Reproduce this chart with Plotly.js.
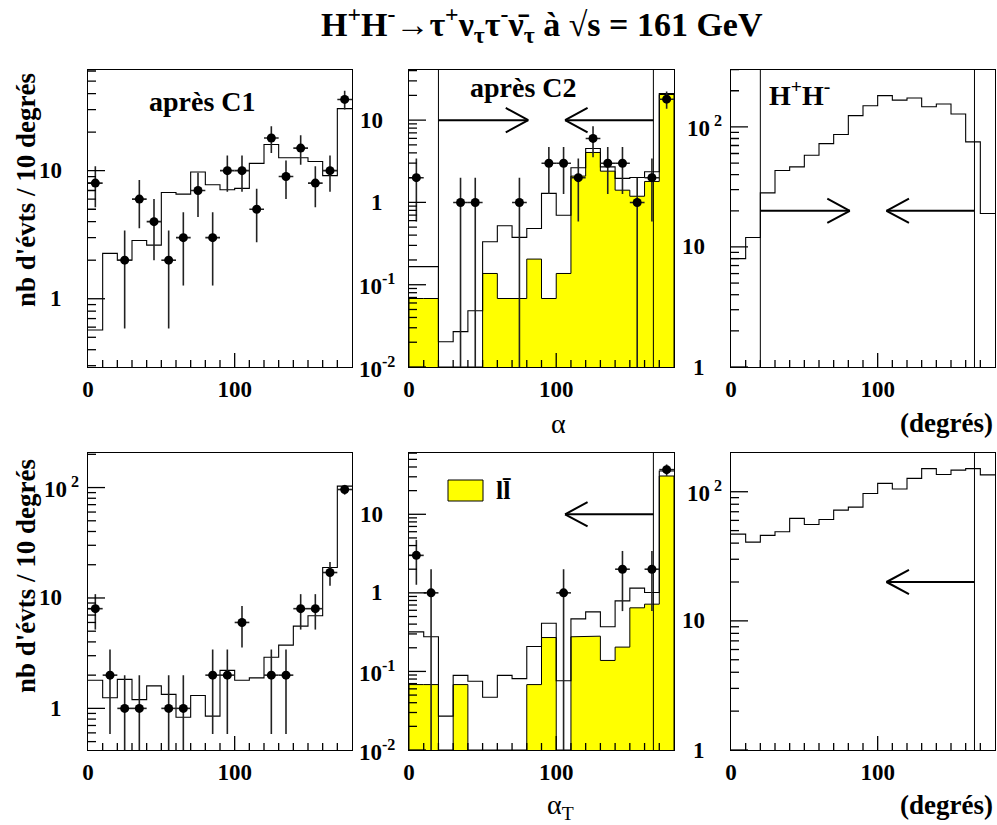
<!DOCTYPE html>
<html><head><meta charset="utf-8">
<script src="https://cdn.plot.ly/plotly-3.0.1.min.js"></script>
<style>body{margin:0;background:#fff}#chart{width:997px;height:825px}</style>
</head><body><div id="chart"></div>
<script>
// ---------- data ----------
const binEdges   = [0,10,20,30,40,50,60,70,80,90,100,110,120,130,140,150,160,170,180];
const binCenters = [5,15,25,35,45,55,65,75,85,95,105,115,125,135,145,155,165,175];

// top-left: alpha after C1
const p1_mc   = [0.57,2.26,2.0,2.85,2.62,6.76,6.56,9.77,7.77,7.1,7.27,11.4,16.0,12.6,12.6,11.8,9.14,30.5];
const p1_data = [8,null,2,6,4,2,3,7,3,10,10,5,18,9,15,8,10,36];

// top-middle: alpha after C2
const p2_ll   = [0.068,0.068,0,0,0,0.137,0.068,0.068,0.205,0.068,0.137,2.09,4.05,2.4,1.41,1.19,1.8,20.5];
const p2_mc   = [0.166,0.166,0.0203,0.0269,0.0483,0.333,0.521,0.376,0.483,1.29,0.70,2.64,4.53,2.71,1.96,2.01,2.36,21.1];
const p2_data = [2,null,null,1,1,null,null,1,null,3,3,2,6,3,3,1,2,18];

// top-right: H+H- signal, alpha
const p3_sig  = [8.0,12.0,28.2,43.3,46.4,58,72.6,86.3,124,150,182,167,174,147,155,128,75,19];

// bottom-left: alpha_T after C1
const p4_mc   = [1.8,1.25,1.83,1.2,1.6,1.34,0.83,1.31,0.85,2.21,1.8,1.89,2.9,3.74,5.56,6.9,18.9,103];
const p4_data = [8,2,1,1,null,1,1,null,2,2,6,null,2,2,8,8,17,96];

// bottom-middle: alpha_T after C2
const p5_ll   = [0.068,0.068,0,0.068,0,0,0,0,0.068,0.27,0,0.276,0.281,0.138,0.204,0.645,0.718,30.7];
const p5_mc   = [0.319,0.276,0.027,0.089,0.075,0.047,0.089,0.081,0.208,0.411,0.076,0.467,0.573,0.37,0.791,1.15,1.01,35.6];
const p5_data = [3,1,null,null,null,null,null,null,null,null,1,null,null,null,2,null,2,37];

// bottom-right: H+H- signal, alpha_T
const p6_sig  = [47,40.7,45.9,49,62.2,55.8,61,72.1,76,97,116,105,127,151,136,147,151,135];

// cut values (degrees)
const cutLow = 20, cutHigh = 166;

// tick labels
const xTickVals = [0,100], xTickText = ['0','100'];
const xMinorVals = [10,20,30,40,50,60,70,80,90,110,120,130,140,150,160,170];
const yTickC1 = [1,10],             yTextC1 = ['1','10'];
const yTickC2 = [0.01,0.1,1,10],    yTextC2 = ['10<sup>-2</sup>','10<sup>-1</sup>','1','10'];
const yTickHi = [1,10,100],         yTextHi = ['1','10','10<sup> 2</sup>'];

// ---------- helpers ----------
const W = 997, H = 825;
const px = v => v / W, py = v => 1 - v / H;
const FONT = 'Liberation Serif, Times New Roman, Times, serif';
const XMAX = binEdges[binEdges.length-1];

function stepTrace(xa, ya, vals) {
  return {type:'scatter', mode:'lines', x: binEdges.slice(),
    y: vals.concat([vals[vals.length-1]]), xaxis:xa, yaxis:ya,
    line:{shape:'hv', color:'black', width:1.1}, hoverinfo:'skip', showlegend:false};
}
function fillTrace(xa, ya, vals, floor) {
  const x = [binEdges[0]], y = [floor];
  vals.forEach((v, i) => { const vv = Math.max(v, floor); x.push(binEdges[i], binEdges[i+1]); y.push(vv, vv); });
  x.push(XMAX); y.push(floor);
  return {type:'scatter', mode:'lines', x, y, xaxis:xa, yaxis:ya, fill:'toself',
    fillcolor:'#ffff00', line:{color:'black', width:1}, hoverinfo:'skip', showlegend:false};
}
function dataTrace(xa, ya, vals) {
  const x = [], y = [], ey = [], ex = [];
  vals.forEach((v, i) => { if (v !== null) {
    x.push(binCenters[i]); y.push(v); ey.push(Math.sqrt(v));
    ex.push((binEdges[i+1]-binEdges[i])/2); }});
  return {type:'scatter', mode:'markers', x, y, xaxis:xa, yaxis:ya,
    marker:{color:'black', size:9},
    error_y:{type:'data', array:ey, color:'#222', thickness:1.6, width:0},
    error_x:{type:'data', array:ex, color:'#222', thickness:1.6, width:0},
    hoverinfo:'skip', showlegend:false};
}
function decadeMinor(lo, hi) {
  const out = [];
  for (let e = Math.floor(lo); e <= Math.ceil(hi); e++)
    for (let m = 2; m <= 9; m++) { const v = m * Math.pow(10, e); const l = Math.log10(v); if (l > lo && l < hi) out.push(v); }
  return out;
}
// inside tick marks as data-coordinate line shapes (same kind as the arrow shafts)
function tickShapes(xa, ya, xdomPx, ydomPx, yr, yMajor) {
  const wpx = xdomPx[1]-xdomPx[0], hpx = ydomPx[1]-ydomPx[0];
  const yb = Math.pow(10, yr[0]);
  const yUp = L => Math.pow(10, yr[0] + L / hpx * (yr[1]-yr[0]));
  const xIn = L => L / wpx * XMAX;
  const ln = () => ({color:'black', width:1.3});
  const out = [];
  xMinorVals.forEach(v => out.push({type:'line', xref:xa, yref:ya, x0:v, x1:v, y0:yb, y1:yUp(7), line:ln(), layer:'above'}));
  xTickVals.filter(v => v > 0).forEach(v => out.push({type:'line', xref:xa, yref:ya, x0:v, x1:v, y0:yb, y1:yUp(14), line:ln(), layer:'above'}));
  yMajor.forEach(v => out.push({type:'line', xref:xa, yref:ya, x0:0, x1:xIn(17), y0:v, y1:v, line:ln(), layer:'above'}));
  decadeMinor(yr[0], yr[1]).forEach(v => out.push({type:'line', xref:xa, yref:ya, x0:0, x1:xIn(8), y0:v, y1:v, line:ln(), layer:'above'}));
  return out;
}
function xAxis(dom, anchor) {
  return {domain:dom, anchor, range:[0,XMAX], showline:true, mirror:true, linecolor:'black', linewidth:1,
    showgrid:false, zeroline:false, ticks:'',
    tickmode:'array', tickvals:xTickVals, ticktext:xTickText, ticklabelstandoff:1,
    tickfont:{family:FONT, size:23, color:'black', weight:'bold'}};
}
function yAxis(dom, anchor, range) {
  return {domain:dom, anchor, type:'log', range, showline:true, mirror:true, linecolor:'black', linewidth:1,
    showgrid:false, zeroline:false, ticks:'', showticklabels:false};
}
function yLabels(ya, axisPx, vals, texts) {
  return vals.map((v, i) => {
    const t = texts[i], hasExp = t.indexOf('<sup>') >= 0;
    return {text:t, xref:'paper', yref:ya, y:Math.log10(v), showarrow:false, yanchor:'middle',
      x: px(axisPx - (hasExp ? (t.indexOf('-') >= 0 ? 52 : 46) : 24)), xanchor: hasExp ? 'left' : 'right',
      font:{family:FONT, size:23, color:'black', weight:'bold'}};
  });
}
function vline(xa, ya, xv) {
  return {type:'line', xref:xa, yref:ya + ' domain', x0:xv, x1:xv, y0:0, y1:1, line:{color:'black', width:1}, layer:'above'};
}
function arrowShaft(xa, ya, from, tip, yv) {
  return {type:'line', xref:xa, yref:ya, x0:from, x1:tip, y0:yv, y1:yv, line:{color:'black', width:2}, layer:'above'};
}
function arrowHead(xa, ya, from, tip, yv) {
  const dir = tip > from ? -1 : 1;
  return [13, -13].map(dy => ({xref:xa, yref:ya, x:tip, y:Math.log10(yv), ax:dir*24, ay:dy,
    text:'', showarrow:true, arrowhead:0, arrowwidth:2, arrowcolor:'black', standoff:0, startstandoff:0}));
}

// ---------- geometry ----------
const colPx = [[88,352],[409,674],[731,995]];
const topPx = [69.5,367], botPx = [453,750];
const colX = colPx.map(c => [px(c[0]), px(c[1])]);
const rowTop = [py(topPx[1]), py(topPx[0])], rowBot = [py(botPx[1]), py(botPx[0])];

const r1 = [-0.533, 1.79], r2 = [-2, 1.616], r3 = [0, 2.478];
const r4 = [-0.377, 2.313], r5 = [-2, 1.78], r6 = [0, 2.30];

const traces = [
  fillTrace('x2','y2',p2_ll,Math.pow(10,r2[0])),
  fillTrace('x5','y5',p5_ll,Math.pow(10,r5[0])),
  stepTrace('x','y',p1_mc), stepTrace('x2','y2',p2_mc), stepTrace('x3','y3',p3_sig),
  stepTrace('x4','y4',p4_mc), stepTrace('x5','y5',p5_mc), stepTrace('x6','y6',p6_sig),
  dataTrace('x','y',p1_data), dataTrace('x2','y2',p2_data),
  dataTrace('x4','y4',p4_data), dataTrace('x5','y5',p5_data)
];

const shapes = [
  vline('x2','y2',cutLow), vline('x2','y2',cutHigh),
  vline('x3','y3',cutLow), vline('x3','y3',cutHigh),
  vline('x5','y5',cutHigh), vline('x6','y6',cutHigh),
  arrowShaft('x2','y2',cutLow,81,10), arrowShaft('x2','y2',cutHigh,106,10),
  arrowShaft('x3','y3',cutLow,81,20), arrowShaft('x3','y3',cutHigh,106,20),
  arrowShaft('x5','y5',cutHigh,106,10), arrowShaft('x6','y6',cutHigh,106,20),
  {type:'rect', xref:'paper', yref:'paper', x0:px(448), x1:px(483), y0:py(501), y1:py(480),
    fillcolor:'#ffff00', line:{color:'black', width:1}, layer:'above'},
  ...tickShapes('x','y',colPx[0],topPx,r1,yTickC1),
  ...tickShapes('x2','y2',colPx[1],topPx,r2,yTickC2),
  ...tickShapes('x3','y3',colPx[2],topPx,r3,yTickHi),
  ...tickShapes('x4','y4',colPx[0],botPx,r4,yTickHi),
  ...tickShapes('x5','y5',colPx[1],botPx,r5,yTickC2),
  ...tickShapes('x6','y6',colPx[2],botPx,r6,yTickHi)
];

function txt(text, x, y, size, opts) {
  return Object.assign({text, xref:'paper', yref:'paper', x:px(x), y:py(y), showarrow:false,
    xanchor:'center', yanchor:'middle', font:{family:FONT, size, color:'black', weight:'bold'}}, opts || {});
}
const annotations = [
  txt('H<sup>+</sup>H<sup>-</sup>→τ<sup>+</sup>ν<sub>τ</sub>τ<sup>-</sup>ν\u0304<sub>τ</sub> à √s = 161 GeV', 542, 25, 34),
  txt('nb d\'évts / 10 degrés', 26, 190, 27, {textangle:-90}),
  txt('nb d\'évts / 10 degrés', 26, 576, 27, {textangle:-90}),
  txt('après C1', 202, 101, 28),
  txt('après C2', 523, 87, 28),
  txt('H<sup>+</sup>H<sup>-</sup>', 767, 93, 28, {xanchor:'left'}),
  txt('ll\u0304', 494, 490, 26, {xanchor:'left'}),
  txt('α', 558, 423, 28, {font:{family:FONT, size:28, color:'black'}}),
  txt('α<sub>T</sub>', 560, 806, 28, {font:{family:FONT, size:28, color:'black'}}),
  txt('(degrés)', 995, 423, 27, {xanchor:'right'}),
  txt('(degrés)', 995, 805, 27, {xanchor:'right'}),
  ...yLabels('y', colPx[0][0], yTickC1, yTextC1),
  ...yLabels('y2', colPx[1][0], yTickC2, yTextC2),
  ...yLabels('y3', colPx[2][0], yTickHi, yTextHi),
  ...yLabels('y4', colPx[0][0], yTickHi, yTextHi),
  ...yLabels('y5', colPx[1][0], yTickC2, yTextC2),
  ...yLabels('y6', colPx[2][0], yTickHi, yTextHi),
  ...arrowHead('x2','y2',cutLow,81,10), ...arrowHead('x2','y2',cutHigh,106,10),
  ...arrowHead('x3','y3',cutLow,81,20), ...arrowHead('x3','y3',cutHigh,106,20),
  ...arrowHead('x5','y5',cutHigh,106,10), ...arrowHead('x6','y6',cutHigh,106,20)
];

const layout = {
  width:W, height:H, margin:{l:0,r:0,t:0,b:0}, paper_bgcolor:'white', plot_bgcolor:'white',
  font:{family:FONT, color:'black'}, showlegend:false,
  xaxis: xAxis(colX[0],'y'),  yaxis: yAxis(rowTop,'x',r1),
  xaxis2:xAxis(colX[1],'y2'), yaxis2:yAxis(rowTop,'x2',r2),
  xaxis3:xAxis(colX[2],'y3'), yaxis3:yAxis(rowTop,'x3',r3),
  xaxis4:xAxis(colX[0],'y4'), yaxis4:yAxis(rowBot,'x4',r4),
  xaxis5:xAxis(colX[1],'y5'), yaxis5:yAxis(rowBot,'x5',r5),
  xaxis6:xAxis(colX[2],'y6'), yaxis6:yAxis(rowBot,'x6',r6),
  shapes, annotations
};
Plotly.newPlot('chart', traces, layout, {staticPlot:true, displayModeBar:false});
</script></body></html>
